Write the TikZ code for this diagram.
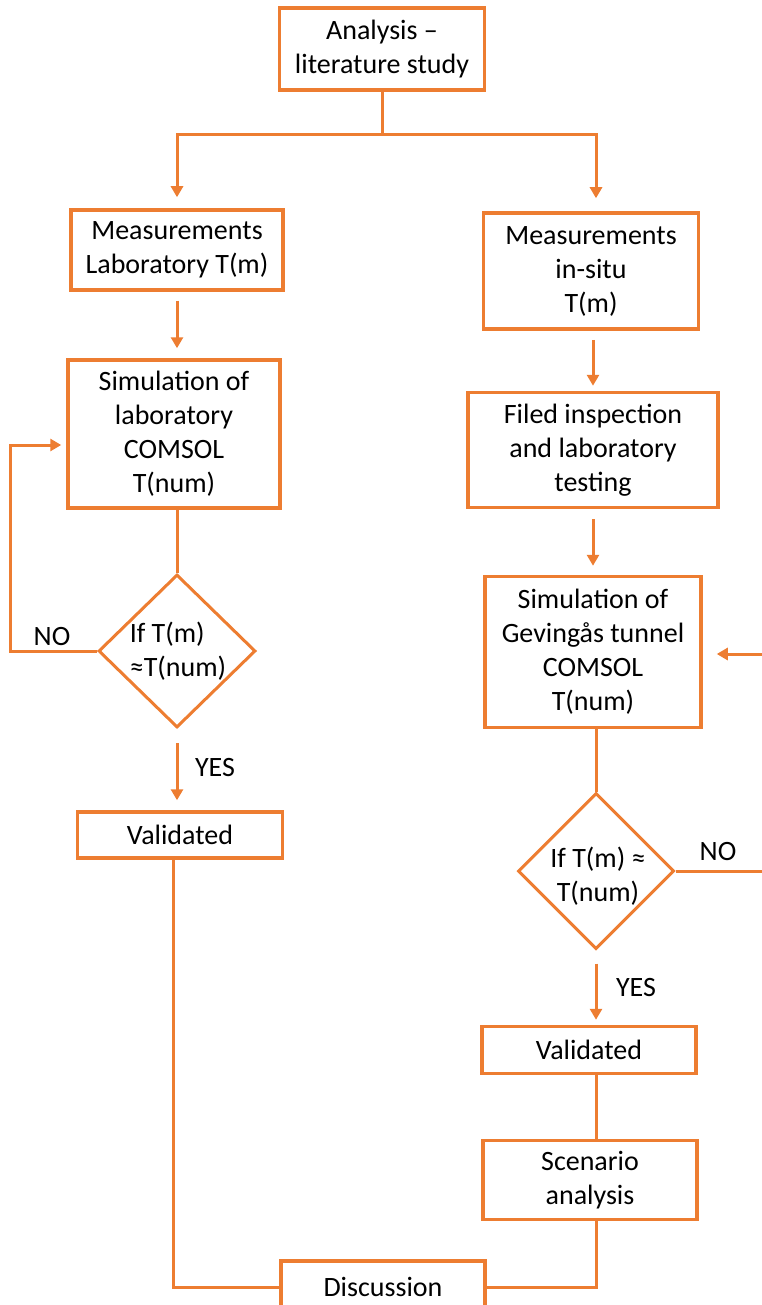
\documentclass[tikz,border=0pt]{standalone}
\usepackage{fontspec}
\setmainfont{Carlito}
\usetikzlibrary{positioning, shapes.geometric, arrows.meta}
\definecolor{flowOrange}{HTML}{ED7D31}
\tikzstyle{process box}=[draw=flowOrange, line width=3.5pt, fill=white, align=center, inner sep=0pt]
\tikzstyle{decision}=[diamond, draw=flowOrange, line width=3pt, inner sep=0pt]
\tikzstyle{annot}=[inner sep=0pt]
\tikzstyle{flow}=[->, shorten <=9pt, shorten >=8pt]

\begin{document}
\begin{tikzpicture}[x=1pt, y=-1pt, line width=3pt, draw=flowOrange, >={Triangle[width=12pt,length=11pt]},
		font=\fontsize{28}{34}\selectfont]
		\useasboundingbox (0,0) rectangle (762,1305);
		% Top of the chart
		\node[process box, minimum width=205pt, minimum height=82pt] (analysis) at (382,49) {Analysis --\\literature study};
		\coordinate[below=43pt of analysis.south] (split);

		% Laboratory branch
		\node[process box, minimum width=212pt, minimum height=80pt] (measLab) at (177,250) {Measurements\\Laboratory T(m)};
		\node[process box, minimum width=212pt, minimum height=148pt] (simLab) at (174,434) {Simulation of\\laboratory\\COMSOL\\T(num)};
		\node[decision, minimum width=157pt, minimum height=153pt] (ifLab) at (177,651) {};
		\node[annot, align=left] (ifLabText) at (178,651) {If T(m)\\≈T(num)};
		\node[process box, minimum width=205pt, minimum height=46pt] (validLab) at (180,835) {Validated};
		\coordinate[left=87pt of ifLab.west] (loopL);
		\node[annot] (noLab) at (52,637) {NO};
		\node[annot] (yesLab) at (215,768) {YES};

		% In-situ branch
		\node[process box, minimum width=215pt, minimum height=116pt] (measSitu) at (591,271) {Measurements\\in-situ\\T(m)};
		\node[process box, minimum width=250pt, minimum height=115pt] (inspect) at (593,450) {Filed inspection\\and laboratory\\testing};
		\node[process box, minimum width=216pt, minimum height=151pt] (simTun) at (593,652) {Simulation of\\Gevingås tunnel\\COMSOL\\T(num)};
		\node[decision, minimum width=156pt, minimum height=156pt] (ifTun) at (596,871) {};
		\node[annot, align=center] (ifTunText) at (598,876) {If T(m) ≈\\T(num)};
		\node[process box, minimum width=214pt, minimum height=47pt] (validTun) at (589,1050) {Validated};
		\node[process box, minimum width=214pt, minimum height=79pt] (scenario) at (590,1180) {Scenario\\analysis};
		\coordinate (exitR) at (770,871);
		\coordinate (entryR) at (770,654);
		\node[annot] (noTun) at (718,852) {NO};
		\node[annot] (yesTun) at (636,987) {YES};

		% Closing box
		\node[process box, minimum width=204pt, minimum height=52pt] (discussion) at (383,1287) {Discussion};

		% Split from the top box
		\draw (analysis.south) -- (split);
		\draw[->, shorten >=11pt] (split) -| (measLab.north);
		\draw[->, shorten >=13pt] (split) -| (ifTun.north |- measSitu.north);

		% Connect the laboratory branch
		\draw[flow, shorten >=10pt] (measLab.south) -- (measLab.south |- simLab.north);
		\draw (ifLab.north |- simLab.south) -- (ifLab.north);
		\draw[->, shorten >=5pt] (ifLab.west) -- (loopL) |- ([yshift=-11pt]simLab.west);
		\draw[flow, shorten <=14pt, shorten >=10pt] (ifLab.south) -- (ifLab.south |- validLab.north);
		\draw ([xshift=-7pt]validLab.south) |- (discussion.west);

		% Connect the in-situ branch
		\draw[flow, shorten >=5pt] (inspect.north |- measSitu.south) -- (inspect.north);
		\draw[flow, shorten <=10pt, shorten >=9pt] (inspect.south) -- (inspect.south |- simTun.north);
		\draw (ifTun.north |- simTun.south) -- (ifTun.north);
		\draw (ifTun.east) -- (exitR);
		\draw[->, shorten >=14pt] (entryR) -- (entryR -| simTun.east);
		\draw[flow, shorten <=13pt, shorten >=5pt] (ifTun.south) -- (ifTun.south |- validTun.north);
		\draw (ifTun.south |- validTun.south) -- (ifTun.south |- scenario.north);
		\draw (ifTun.south |- scenario.south) |- (discussion.east);
	\end{tikzpicture}
\end{document}
